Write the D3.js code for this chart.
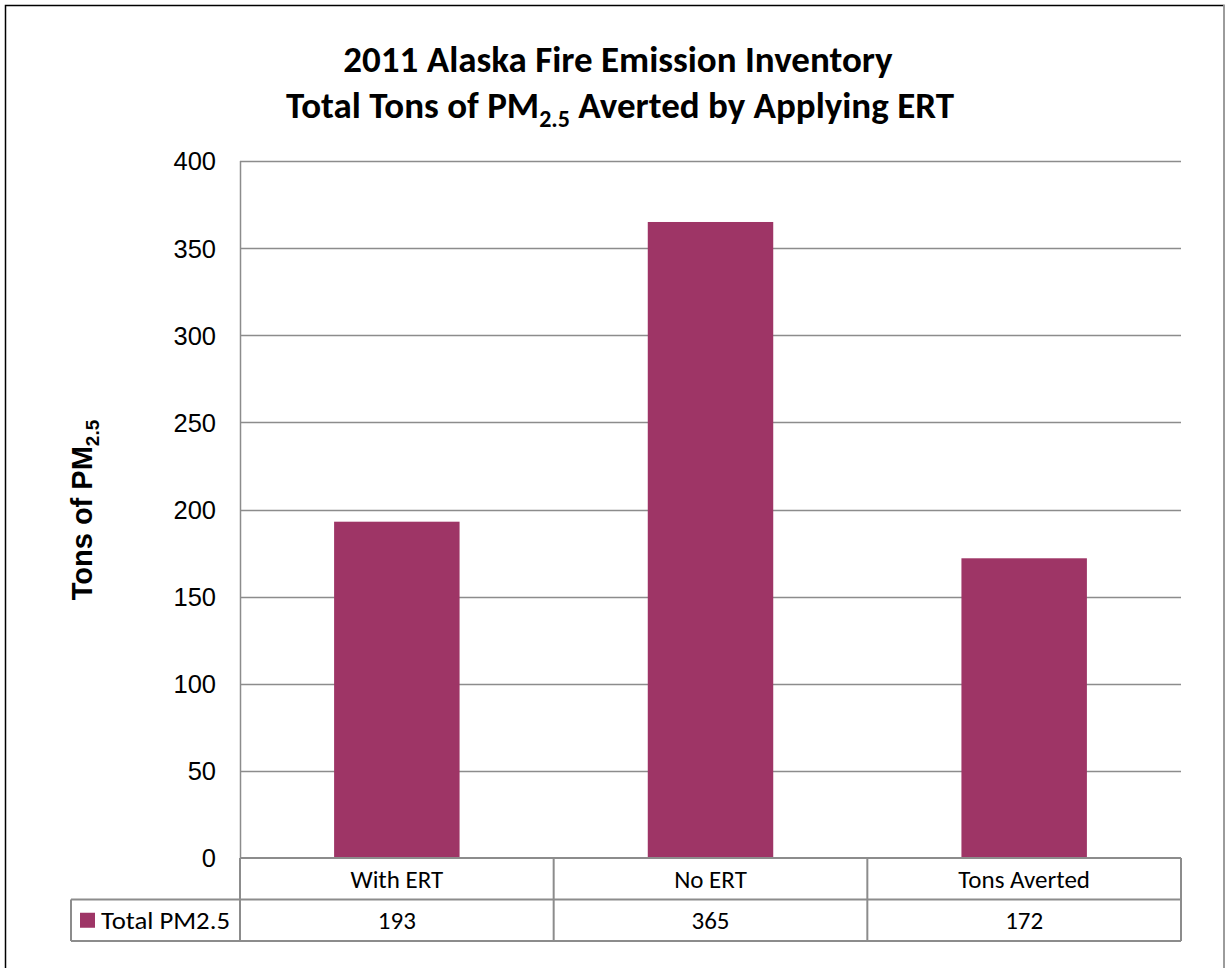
<!DOCTYPE html>
<html><head><meta charset="utf-8">
<script src="https://cdn.jsdelivr.net/npm/d3@7"></script>
<style>
body{margin:0;background:#fff;}
svg{display:block;}
</style></head>
<body>
<svg id="chart" width="1225" height="968"></svg>
<script>
const categories = ["With ERT", "No ERT", "Tons Averted"];
const values = [193, 365, 172];
const seriesName = "Total PM2.5";
const yTicks = [0, 50, 100, 150, 200, 250, 300, 350, 400];

const svg = d3.select("#chart");
const W = 1225, H = 968;
const barColor = "#9E3566";
const gridColor = "#8C8C8C";
const calibri = "Carlito, Lato, 'Open Sans', sans-serif";
const arial = "'Liberation Sans', Arial, sans-serif";

// outer frame
svg.append("rect").attr("x", 5.5).attr("y", 5.5).attr("width", 1218.5).attr("height", 970)
  .attr("fill", "#fff").attr("stroke", "#000").attr("stroke-width", 1.5);
svg.append("line").attr("x1", 1224).attr("x2", 1224).attr("y1", 5).attr("y2", H)
  .attr("stroke", "#bbb").attr("stroke-width", 1.5);

const plot = {left: 240, right: 1181, top: 161, bottom: 858};
const x = d3.scaleBand().domain(categories).range([plot.left, plot.right]).paddingInner(0.6).paddingOuter(0.3);
const xc = d3.scaleBand().domain(categories).range([plot.left, plot.right]);
const y = d3.scaleLinear().domain([0, 400]).range([plot.bottom, plot.top]);

// gridlines
svg.append("g").selectAll("line").data(yTicks.filter(d => d > 0)).join("line")
  .attr("x1", plot.left).attr("x2", plot.right)
  .attr("y1", d => Math.round(y(d)) + 0.5).attr("y2", d => Math.round(y(d)) + 0.5)
  .attr("stroke", gridColor).attr("stroke-width", 1.5);

// y axis
const yAxis = d3.axisLeft(y).tickValues(yTicks).tickSize(0).tickPadding(0);
const gy = svg.append("g").attr("transform", `translate(${plot.left - 24},0)`).call(yAxis);
gy.select(".domain").remove();
gy.selectAll("text").attr("font-family", arial).attr("font-size", 25.5).attr("fill", "#000").attr("dy", "0.35em");
svg.append("line").attr("x1", plot.left + 0.5).attr("x2", plot.left + 0.5).attr("y1", plot.top).attr("y2", plot.bottom)
  .attr("stroke", gridColor).attr("stroke-width", 1.5);

// bars
svg.append("g").selectAll("rect").data(categories).join("rect")
  .attr("x", d => x(d)).attr("width", x.bandwidth())
  .attr("y", (d, i) => y(values[i])).attr("height", (d, i) => y(0) - y(values[i]))
  .attr("fill", barColor);

// data table
const rowH = 41.5;
const r1 = plot.bottom, r2 = plot.bottom + rowH, r3 = plot.bottom + 2 * rowH;
const tbl = svg.append("g").attr("stroke", gridColor).attr("stroke-width", 2).attr("fill", "none");
tbl.append("line").attr("x1", plot.left).attr("x2", plot.right).attr("y1", r1).attr("y2", r1);
tbl.append("line").attr("x1", 71).attr("x2", plot.right).attr("y1", r2).attr("y2", r2);
tbl.append("line").attr("x1", 71).attr("x2", plot.right).attr("y1", r3).attr("y2", r3);
tbl.append("line").attr("x1", 71).attr("x2", 71).attr("y1", r2).attr("y2", r3);
tbl.selectAll("line.v").data(categories).join("line").attr("class", "v")
  .attr("x1", d => xc(d)).attr("x2", d => xc(d)).attr("y1", r1).attr("y2", r3);
tbl.append("line").attr("x1", plot.right).attr("x2", plot.right).attr("y1", r1).attr("y2", r3);

const tfs = 25;
svg.append("g").selectAll("text").data(categories).join("text")
  .attr("x", d => xc(d) + xc.bandwidth() / 2).attr("y", (r1 + r2) / 2 + 9)
  .attr("text-anchor", "middle").attr("font-family", calibri).attr("font-size", tfs).text(d => d);
svg.append("g").selectAll("text").data(values).join("text")
  .attr("x", (d, i) => xc(categories[i]) + xc.bandwidth() / 2).attr("y", (r2 + r3) / 2 + 9)
  .attr("text-anchor", "middle").attr("font-family", calibri).attr("font-size", tfs).text(d => d);

// legend key in table
svg.append("rect").attr("x", 80).attr("y", (r2 + r3) / 2 - 7.5).attr("width", 15).attr("height", 15).attr("fill", barColor);
svg.append("text").attr("x", 101).attr("y", (r2 + r3) / 2 + 9).attr("font-family", calibri).attr("font-size", tfs)
  .attr("textLength", 129).attr("lengthAdjust", "spacingAndGlyphs").text(seriesName);

// title
const title = svg.append("g").attr("font-family", calibri).attr("font-weight", "bold").attr("font-size", 37).attr("text-anchor", "middle");
title.append("text").attr("x", 618).attr("y", 72).text("2011 Alaska Fire Emission Inventory");
const t2 = title.append("text").attr("x", 620).attr("y", 118);
t2.append("tspan").text("Total Tons of PM");
t2.append("tspan").attr("font-size", 24).attr("dy", 9).text("2.5");
t2.append("tspan").attr("dy", -9).text(" Averted by Applying ERT");

// y axis title
const yt = svg.append("text").attr("transform", "translate(92,510) rotate(-90)")
  .attr("text-anchor", "middle").attr("font-family", arial).attr("font-weight", "bold").attr("font-size", 29);
yt.append("tspan").text("Tons of PM");
yt.append("tspan").attr("font-size", 19).attr("dy", 7).text("2.5");
</script>
</body></html>
